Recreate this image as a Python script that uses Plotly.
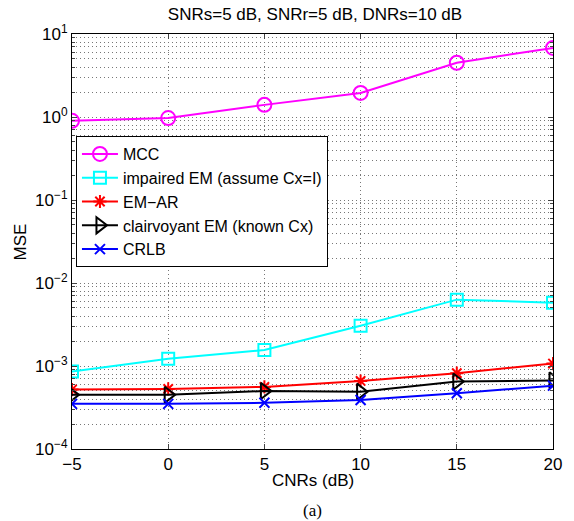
import plotly.graph_objects as go

cnr = [-5, 0, 5, 10, 15, 20]
mcc = [0.90, 0.97, 1.40, 1.95, 4.5, 6.8]
impaired = [8.6e-4, 1.22e-3, 1.56e-3, 3.05e-3, 6.3e-3, 5.8e-3]
em_ar = [5.2e-4, 5.3e-4, 5.6e-4, 6.6e-4, 8.2e-4, 1.07e-3]
clair = [4.5e-4, 4.5e-4, 5.0e-4, 4.9e-4, 6.5e-4, 6.7e-4]
crlb = [3.5e-4, 3.5e-4, 3.6e-4, 3.9e-4, 4.7e-4, 5.8e-4]

names = ["MCC", "impaired EM (assume Cx=I)", "EM\u2212AR", "clairvoyant EM (known Cx)", "CRLB"]
colors = ["#ff00ff", "#00ffff", "#ff0000", "#000000", "#0000ff"]
symbols = ["circle-open", "square-open", "asterisk-open", "triangle-right-open", "x-thin-open"]
sizes = [14, 12, 11, 14, 10]
series = [mcc, impaired, em_ar, clair, crlb]

fig = go.Figure()
for n, c, s, sz, y in zip(names, colors, symbols, sizes, series):
    fig.add_trace(go.Scatter(
        x=cnr, y=y, name=n, mode="lines+markers",
        line=dict(color=c, width=2),
        marker=dict(symbol=s, size=sz, color=c, line=dict(color=c, width=2)),
    ))

fam = "Liberation Sans"
tickvals = [1e-4, 1e-3, 1e-2, 1e-1, 1, 10]
ticktext = ["10<sup>\u22124</sup>", "10<sup>\u22123</sup>", "10<sup>\u22122</sup>",
            "10<sup>\u22121</sup>", "10<sup>0</sup>", "10<sup>1</sup>"]
grid = dict(showgrid=True, gridcolor="#777777", griddash="1px,3px", gridwidth=1)

L, R, T, B = 72, 558, 34, 449
W, H = 574, 521
pw, ph = R - L, B - T

fig.update_layout(
    width=W, height=H,
    margin=dict(l=L, r=W - R, t=T, b=H - B),
    paper_bgcolor="white", plot_bgcolor="white",
    font=dict(family=fam, size=17, color="black"),
    showlegend=True,
    title=dict(text="SNRs=5 dB, SNRr=5 dB, DNRs=10 dB", x=(L + R) / 2 / W, xanchor="center",
               y=1 - 14 / H, yanchor="middle", font=dict(size=17)),
    legend=dict(x=(76 - L) / pw, y=(B - 136) / ph, xanchor="left", yanchor="top",
                bgcolor="white", bordercolor="black", borderwidth=1,
                font=dict(size=16), tracegroupgap=0, itemwidth=36),
    xaxis=dict(range=[-5, 20], tickvals=cnr, ticktext=["\u22125", "0", "5", "10", "15", "20"],
               ticks="inside", ticklen=5, mirror="allticks", showline=True,
               linecolor="black", linewidth=1, zeroline=False,
               tickfont=dict(size=17), **grid),
    yaxis=dict(type="log", range=[-4, 1], tickvals=tickvals, ticktext=ticktext,
               ticks="inside", ticklen=5, mirror="allticks", showline=True,
               linecolor="black", linewidth=1, zeroline=False,
               tickfont=dict(size=17), **grid,
               minor=dict(ticks="inside", ticklen=3, dtick="D1", **grid)),
)
fig.add_annotation(text="CNRs (dB)", xref="paper", yref="paper", x=0.5, y=-(480 - B) / ph,
                   xanchor="center", yanchor="middle", showarrow=False, font=dict(size=17))
fig.add_annotation(text="MSE", xref="paper", yref="paper", x=-(L - 20) / pw, y=(B - 242) / ph,
                   xanchor="center", yanchor="middle", showarrow=False, textangle=-90,
                   font=dict(size=17))
fig.add_annotation(text="(a)", xref="paper", yref="paper", x=0.5, y=-(510 - B) / ph,
                   xanchor="center", yanchor="middle", showarrow=False,
                   font=dict(family="Liberation Serif", size=17))
fig.write_html("out.html")
